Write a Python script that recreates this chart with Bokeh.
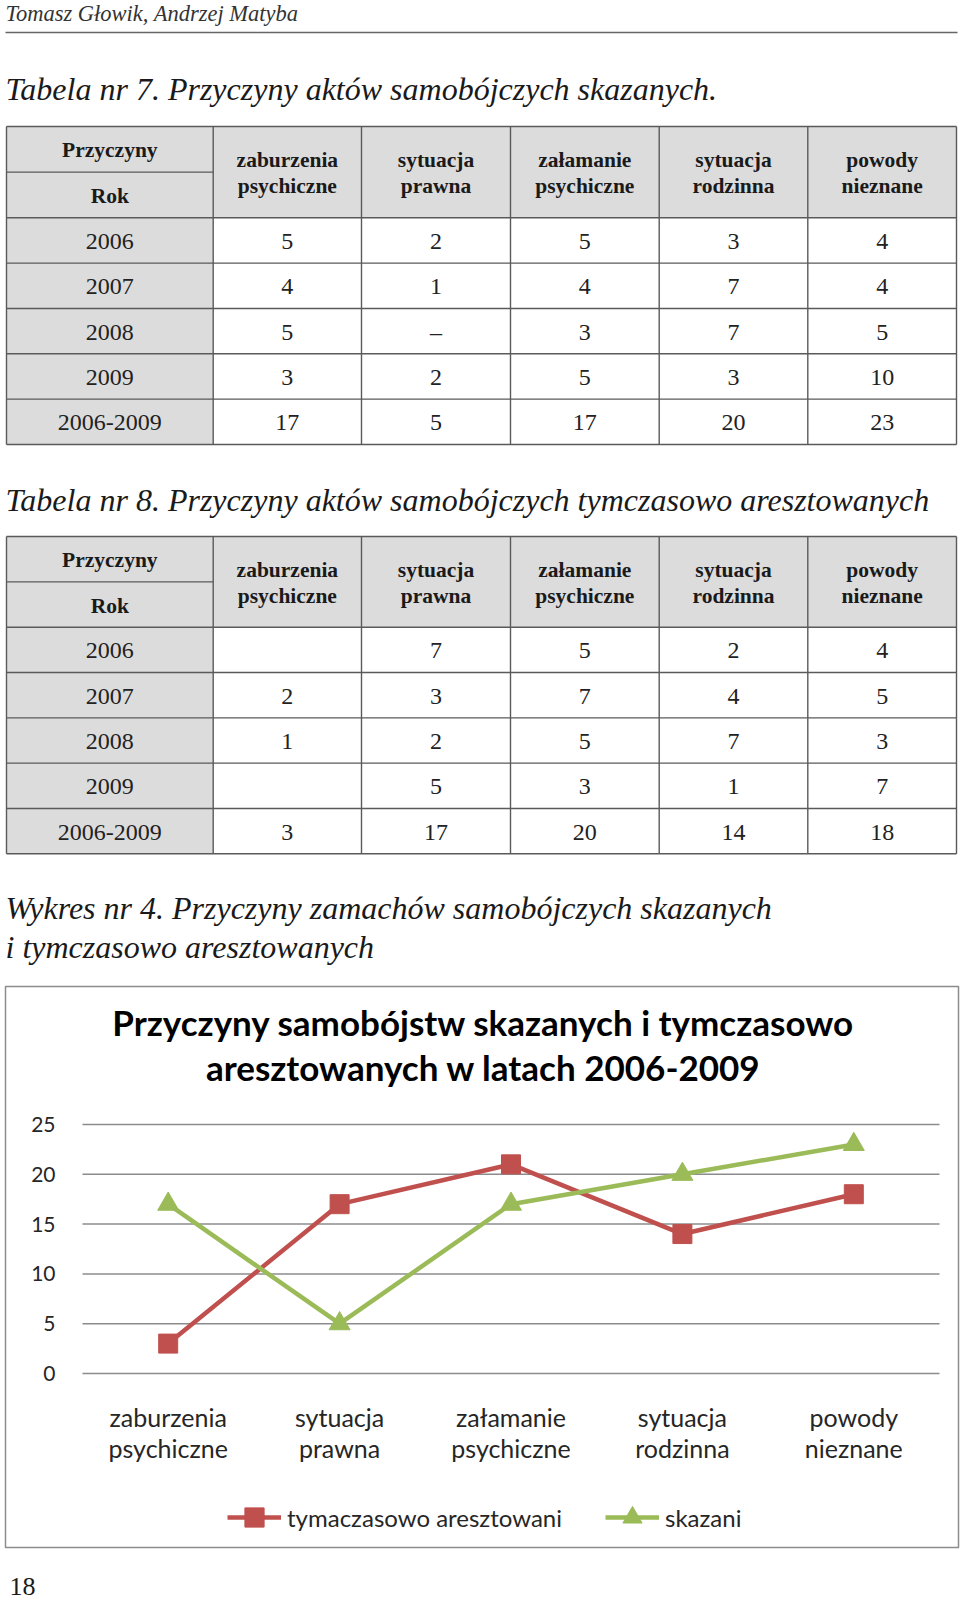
from bokeh.plotting import figure
from bokeh.models import Range1d, FixedTicker, Legend, LegendItem, LinearAxis
from bokeh.core.properties import value
from bokeh.embed import file_html
from bokeh.resources import INLINE

# ---------------- data ----------------
header_text = "Tomasz Głowik, Andrzej Matyba"
caption7 = "Tabela nr 7. Przyczyny aktów samobójczych skazanych."
caption8 = "Tabela nr 8. Przyczyny  aktów samobójczych tymczasowo aresztowanych"
chart_caption = ["Wykres nr 4. Przyczyny zamachów  samobójczych skazanych",
                 "i tymczasowo aresztowanych"]
chart_title = ["Przyczyny samobójstw skazanych i tymczasowo",
               "aresztowanych w latach 2006-2009"]
page_number = "18"

head_top = "Przyczyny"
head_bottom = "Rok"
years = ["2006", "2007", "2008", "2009", "2006-2009"]
causes = ["zaburzenia\npsychiczne", "sytuacja\nprawna", "załamanie\npsychiczne",
          "sytuacja\nrodzinna", "powody\nnieznane"]

# Tabela 7 (skazani)
t7_zaburzenia = ["5", "4", "5", "3", "17"]
t7_prawna = ["2", "1", "–", "2", "5"]
t7_zalamanie = ["5", "4", "3", "5", "17"]
t7_rodzinna = ["3", "7", "7", "3", "20"]
t7_nieznane = ["4", "4", "5", "10", "23"]

# Tabela 8 (tymczasowo aresztowani)
t8_zaburzenia = ["", "2", "1", "", "3"]
t8_prawna = ["7", "3", "2", "5", "17"]
t8_zalamanie = ["5", "7", "5", "3", "20"]
t8_rodzinna = ["2", "4", "7", "1", "14"]
t8_nieznane = ["4", "5", "3", "7", "18"]

# Wykres nr 4
series_names = ["tymaczasowo aresztowani", "skazani"]
aresztowani = [3, 17, 21, 14, 18]
skazani = [17, 5, 17, 20, 23]
y_ticks = [0, 5, 10, 15, 20, 25]

# ---------------- styles / layout (page pixels) ----------------
W, H = 960, 1603
SERIF = value("Liberation Serif")
SANS = value("Lato")
RED = "#c0504d"
GREEN = "#9bbb59"
GRAY_FILL = "#dcdcdc"
BORDER = "#5a5a5a"
COL_EDGES = [6, 212.7, 361, 510, 658.7, 807.3, 956]

# chart plot area on the page and chart box
PA_LEFT, PA_RIGHT, PA_TOP, PA_BOTTOM = 82, 939, 1124, 1373
BOX = (5, 958, 986, 1547)

# extra ranges for the chart, so that the plot area lands where it should
n = len(causes)
cat_x = list(range(n))
xu = n / (PA_RIGHT - PA_LEFT)             # category units per pixel
yu = 25 / (PA_BOTTOM - PA_TOP)            # value units per pixel
cx = Range1d(-0.5 - PA_LEFT * xu, n - 0.5 + (W - PA_RIGHT) * xu)
cy = Range1d(-(H - PA_BOTTOM) * yu, 25 + PA_TOP * yu)

p = figure(width=W, height=H, x_range=Range1d(0, W), y_range=Range1d(H, 0),
           x_axis_type=None, y_axis_type=None, output_backend="svg",
           toolbar_location=None, min_border=0)
p.extra_x_ranges = {"cx": cx}
p.extra_y_ranges = {"cy": cy}
p.grid.visible = False
p.outline_line_color = None
p.background_fill_color = "white"
p.border_fill_color = "white"

# ---------------- header & captions ----------------
p.text(x=[5], y=[12.5], text=[header_text], text_font=SERIF, text_font_style="italic",
       text_font_size="22.5px", text_baseline="alphabetic", text_align="left",
       text_color="#333333")
p.segment(x0=[5], y0=[32], x1=[957], y1=[32], line_color="#666666", line_width=1.3)

cap_kw = dict(text_font=SERIF, text_font_style="italic", text_font_size="32px",
              text_baseline="alphabetic", text_align="left", text_color="#1a1a1a")
p.text(x=[5], y=[88.5], text=[caption7], **cap_kw)
p.text(x=[5], y=[499], text=[caption8], **cap_kw)
p.text(x=[5, 5], y=[907, 946], text=chart_caption, **cap_kw)


def draw_table(top_y, header_h, row_h, columns):
    split_y = top_y + header_h / 2
    hb = top_y + header_h
    row_edges = [hb + i * row_h for i in range(len(years) + 1)]
    bottom_y = row_edges[-1]
    left, right = COL_EDGES[0], COL_EDGES[-1]
    p.quad(left=[left, left], right=[right, COL_EDGES[1]], top=[top_y, hb],
           bottom=[hb, bottom_y], fill_color=GRAY_FILL, line_color=None)
    hx0 = [left, left] + [left] * len(row_edges)
    hx1 = [right, COL_EDGES[1]] + [right] * len(row_edges)
    hy = [top_y, split_y] + row_edges
    p.segment(x0=hx0, y0=hy, x1=hx1, y1=hy, line_color=BORDER, line_width=1.4)
    p.segment(x0=COL_EDGES, y0=[top_y] * len(COL_EDGES), x1=COL_EDGES,
              y1=[bottom_y] * len(COL_EDGES), line_color=BORDER, line_width=1.4)
    c0 = (COL_EDGES[0] + COL_EDGES[1]) / 2
    centers = [(COL_EDGES[i] + COL_EDGES[i + 1]) / 2 for i in range(1, 6)]
    p.text(x=[c0, c0], y=[(top_y + split_y) / 2 + 1, (split_y + hb) / 2 + 1],
           text=[head_top, head_bottom], text_font=SERIF, text_font_style="bold",
           text_font_size="21.5px", text_align="center", text_baseline="middle",
           text_color="#1a1a1a")
    p.text(x=centers, y=[top_y + header_h / 2 + 1] * 5, text=causes, text_font=SERIF,
           text_font_style="bold", text_font_size="21.5px", text_align="center",
           text_baseline="middle", text_line_height=1.1, text_color="#1a1a1a")
    rc = [(row_edges[i] + row_edges[i + 1]) / 2 + 1 for i in range(len(years))]
    p.text(x=[c0] * len(years), y=rc, text=years, text_font=SERIF,
           text_font_size="24px", text_align="center", text_baseline="middle",
           text_color="#222222")
    xs, ys, ts = [], [], []
    for cxx, col in zip(centers, columns):
        for yy, t in zip(rc, col):
            xs.append(cxx)
            ys.append(yy)
            ts.append(t)
    p.text(x=xs, y=ys, text=ts, text_font=SERIF, text_font_size="24px",
           text_align="center", text_baseline="middle", text_color="#222222")


draw_table(126, 91.3, 45.34,
           [t7_zaburzenia, t7_prawna, t7_zalamanie, t7_rodzinna, t7_nieznane])
draw_table(536, 90.7, 45.32,
           [t8_zaburzenia, t8_prawna, t8_zalamanie, t8_rodzinna, t8_nieznane])

# ---------------- chart ----------------
p.quad(left=[BOX[0]], right=[BOX[1]], top=[BOX[2]], bottom=[BOX[3]],
       fill_color=None, line_color="#8c8c8c", line_width=1.5)

p.text(x=[483, 483], y=[1021.5, 1066.5], text=chart_title, text_align="center",
       text_baseline="middle", text_font=SANS, text_font_style="bold",
       text_font_size="35px", text_color="#000000")

# horizontal grid lines at the y ticks
p.segment(x0=[-0.5] * len(y_ticks), x1=[n - 0.5] * len(y_ticks), y0=y_ticks,
          y1=y_ticks, x_range_name="cx", y_range_name="cy",
          line_color="#8c8c8c", line_width=1.5)

yaxis = LinearAxis(x_range_name="cx", y_range_name="cy", fixed_location=-0.5,
                   ticker=FixedTicker(ticks=y_ticks))
xaxis = LinearAxis(x_range_name="cx", y_range_name="cy", fixed_location=0,
                   ticker=FixedTicker(ticks=cat_x),
                   major_label_overrides={i: c for i, c in zip(cat_x, causes)})
for ax in (xaxis, yaxis):
    ax.axis_line_color = None
    ax.major_tick_line_color = None
    ax.minor_tick_line_color = None
    ax.major_tick_out = 0
    ax.major_tick_in = 0
    ax.major_label_text_font = "Lato"
    ax.major_label_text_color = "#262626"
yaxis.major_label_text_font_size = "21px"
yaxis.major_label_standoff = 27
xaxis.major_label_text_font_size = "25px"
xaxis.major_label_text_line_height = 1.05
xaxis.major_label_standoff = 28
p.add_layout(yaxis, "left")
p.add_layout(xaxis, "below")

l1 = p.line(x=cat_x, y=aresztowani, line_color=RED, line_width=4.5,
            x_range_name="cx", y_range_name="cy")
s1 = p.scatter(x=cat_x, y=aresztowani, marker="square", size=19, fill_color=RED,
               line_color=RED, x_range_name="cx", y_range_name="cy")
l2 = p.line(x=cat_x, y=skazani, line_color=GREEN, line_width=4.5,
            x_range_name="cx", y_range_name="cy")
s2 = p.scatter(x=cat_x, y=skazani, marker="triangle", size=21, fill_color=GREEN,
               line_color=GREEN, x_range_name="cx", y_range_name="cy")

GLYPH_H = 48
legend = Legend(items=[LegendItem(label=series_names[0], renderers=[l1, s1]),
                       LegendItem(label=series_names[1], renderers=[l2, s2])],
                orientation="horizontal", location=(227, H - (1517 + GLYPH_H / 2)),
                glyph_width=54, glyph_height=GLYPH_H, label_standoff=6, spacing=43,
                padding=0, margin=0, border_line_color=None, background_fill_alpha=0,
                label_text_font="Lato", label_text_font_size="24px",
                label_text_color="#262626")
p.add_layout(legend)

# ---------------- page number ----------------
p.text(x=[9], y=[1586], text=[page_number], text_font=SERIF, text_font_size="26px",
       text_baseline="alphabetic", text_align="left", text_color="#1a1a1a")

open("out.html", "w").write(file_html(p, INLINE))
